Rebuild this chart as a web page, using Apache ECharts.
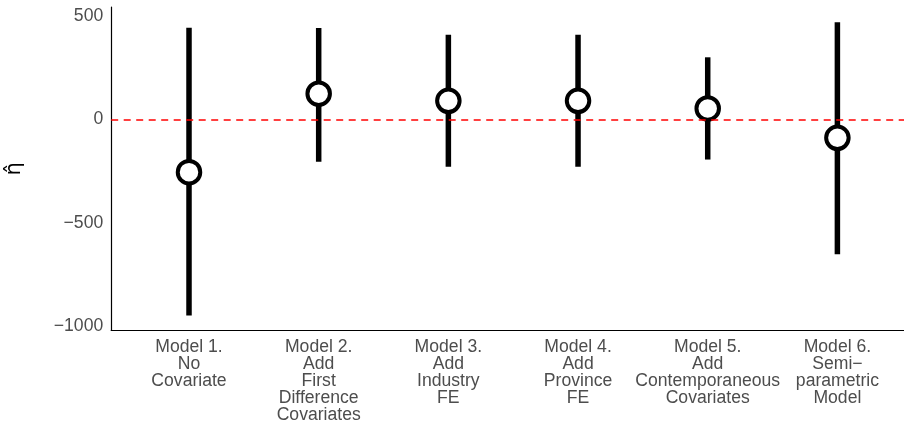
<!DOCTYPE html>
<html>
<head>
<meta charset="utf-8">
<script src="https://cdn.jsdelivr.net/npm/echarts@6/dist/echarts.min.js"></script>
<style>
  html, body { margin: 0; padding: 0; background: #ffffff; }
  #chart { width: 904px; height: 440px; }
</style>
</head>
<body>
<div id="chart"></div>
<script>
// Model labels along the x axis
const models = [
  'Model 1.\nNo\nCovariate',
  'Model 2.\nAdd\nFirst\nDifference\nCovariates',
  'Model 3.\nAdd\nIndustry\nFE',
  'Model 4.\nAdd\nProvince\nFE',
  'Model 5.\nAdd\nContemporaneous\nCovariates',
  'Model 6.\nSemi\u2212\nparametric\nModel'
];
// Point estimates and interval bounds for each model
const estimate = [-254, 125, 91, 91, 54, -88];
const lower    = [-946, -204, -228, -228, -193, -651];
const upper    = [444, 443, 410, 410, 301, 470];
// Y tick labels
const yTicks = [-1000, -500, 0, 500];

const positions = models.map((_, i) => i + 1);
const font = 'Liberation Sans, Arial, Helvetica, sans-serif';

const chart = echarts.init(document.getElementById('chart'));
chart.setOption({
  animation: false,
  backgroundColor: '#ffffff',
  grid: {
    left: 111.2, top: 7, width: 804, bottom: 109.5,
    containLabel: false,
    outerBoundsMode: 'none'
  },
  xAxis: {
    type: 'value',
    min: 0.4,
    max: 6.6,
    axisLine: { show: true, onZero: false, lineStyle: { color: '#000000', width: 1.2 } },
    axisTick: { show: false },
    splitLine: { show: false },
    axisLabel: {
      customValues: positions,
      formatter: v => models[Math.round(v) - 1] || '',
      color: '#4d4d4d',
      fontFamily: font,
      fontSize: 17.6,
      lineHeight: 17,
      margin: 8,
      align: 'center',
      verticalAlign: 'top',
      hideOverlap: false
    }
  },
  yAxis: {
    type: 'value',
    min: -1019,
    max: 544,
    name: '\u03B7\u0302',
    nameLocation: 'middle',
    nameRotate: 90,
    nameGap: 86,
    nameTextStyle: { color: '#000000', fontFamily: 'DejaVu Sans, sans-serif', fontSize: 21 },
    axisLine: { show: true, onZero: false, lineStyle: { color: '#000000', width: 1.2 } },
    axisTick: { show: false },
    splitLine: { show: false },
    axisLabel: {
      customValues: yTicks,
      formatter: v => String(v).replace('-', '\u2212'),
      color: '#4d4d4d',
      fontFamily: font,
      fontSize: 17.6,
      margin: 8
    }
  },
  series: [
    {
      // reference line at zero
      type: 'line',
      data: [],
      z: 1,
      silent: true,
      markLine: {
        symbol: 'none',
        silent: true,
        label: { show: false },
        lineStyle: { color: '#ff0000', width: 1.6, type: [7, 5.5] },
        data: [{ yAxis: 0 }]
      }
    },
    {
      // interval bars
      type: 'custom',
      z: 2,
      data: positions.map((x, i) => [x, lower[i], upper[i]]),
      renderItem: (params, api) => {
        const a = api.coord([api.value(0), api.value(1)]);
        const b = api.coord([api.value(0), api.value(2)]);
        return {
          type: 'line',
          shape: { x1: a[0], y1: a[1], x2: b[0], y2: b[1] },
          style: { stroke: '#000000', lineWidth: 5.5 }
        };
      }
    },
    {
      // point estimates
      type: 'scatter',
      z: 3,
      symbol: 'circle',
      symbolSize: 22.5,
      itemStyle: { color: '#ffffff', borderColor: '#000000', borderWidth: 4, opacity: 1 },
      data: positions.map((x, i) => [x, estimate[i]])
    }
  ]
});
</script>
</body>
</html>
